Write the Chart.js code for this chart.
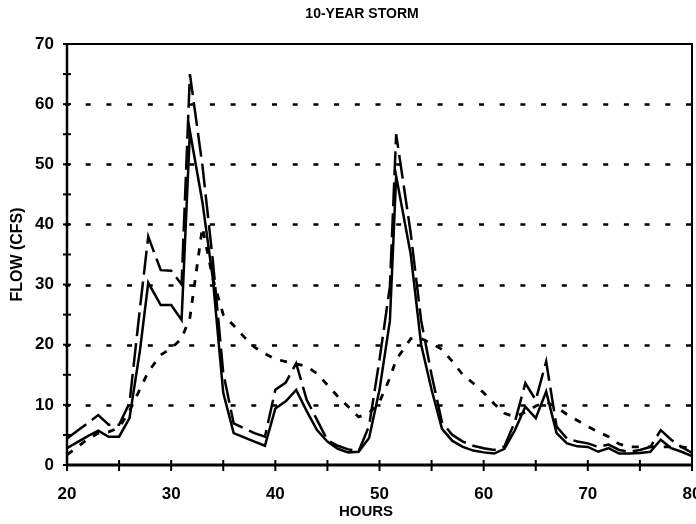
<!DOCTYPE html>
<html>
<head>
<meta charset="utf-8">
<script src="https://cdn.jsdelivr.net/npm/chart.js@4/dist/chart.umd.min.js"></script>
<style>
  html, body { margin: 0; padding: 0; background: #fff; }
  #wrap { width: 696px; height: 524px; }
</style>
</head>
<body>
<div id="wrap"><canvas id="c" width="696" height="524"></canvas></div>
<script>
// Time steps (hours) shared by the three hydrographs
const hours = [20,21,22,23,24,25,26,27,27.8,29,30,31,31.8,33,34,35,36,37,38,39,40,41,42,43,44,45,46,47,48,49,50,51,51.6,53,54,55,56,57,58,59,60,61,62,63,64,65,66,67,68,69,70,71,72,73,74,75,76,77,78,79,80];

// Flow (cfs) – solid hydrograph
const flowSolid = [2.8,3.8,4.8,5.7,4.7,4.7,7.8,19,30.3,26.6,26.6,24.1,55.5,43.7,31,12,5.3,4.6,3.9,3.2,9.4,10.6,12.5,9.0,5.8,3.9,2.7,2.1,2.2,4.5,12.5,24,48,35,20,12.5,6.0,4.0,3.0,2.4,2.1,1.9,2.7,5.8,9.7,7.8,12.2,5.3,3.6,3.1,3.0,2.2,2.8,1.9,1.9,2.0,2.2,4.2,2.8,2.2,1.5];

// Flow (cfs) – long-dash hydrograph
const flowLongDash = [4.4,5.7,7.0,8.3,6.7,6.7,10.3,26,38,32.4,32.3,30,65,49.8,34,15.3,6.9,6.1,5.3,4.7,12.5,13.7,16.9,10.9,7.5,4.1,3.2,2.6,2.3,6.5,17.5,29.7,55,38.5,24,15,7.1,5.0,3.9,3.2,2.8,2.5,3.1,7.2,13.6,10.8,17.2,6.4,4.4,3.9,3.6,3.0,3.4,2.5,2.2,2.5,3.0,5.8,4.2,3.0,2.0];

// Flow (cfs) – short-dash hydrograph
const flowShortDash = [1.7,3.0,4.3,5.3,5.5,6.2,9.0,12.6,15.5,18.3,19.4,21,24.5,39.5,31,25,23.2,21.3,19.6,18.5,17.6,17.2,16.8,16.4,15.2,13.3,11.4,9.7,8.0,8.6,10.5,14.5,17.5,21,21,20.2,19.2,17.2,15,13.6,12.0,10.2,8.6,8.0,8.8,9.8,10.5,9.6,8.4,7.4,6.4,5.5,4.7,3.5,3.0,3.0,3.0,3.0,3.0,3.0,2.8];

// Axis ticks
const xTicks = [20,30,40,50,60,70,80];
const yTicks = [0,10,20,30,40,50,60,70];
const xMinorTicks = [20,25,30,35,40,45,50,55,60,65,70,75,80];
const yMinorTicks = [0,5,10,15,20,25,30,35,40,45,50,55,60,65,70];
const gridLevels = [10,20,30,40,50,60];

const chartTitle = '10-YEAR STORM';
const xTitle = 'HOURS';
const yTitle = 'FLOW (CFS)';

const FONT = "'Liberation Sans Narrow', 'Liberation Sans', Arial, sans-serif";

const pts = (vals) => hours.map((h, i) => ({ x: h, y: vals[i] }));

// Dotted reference lines, box frame, tick marks, title and x-axis caption
const framePlugin = {
  id: 'frame',
  beforeDatasetsDraw(chart) {
    const { ctx, chartArea: a, scales: { y } } = chart;
    ctx.save();
    ctx.strokeStyle = '#000';
    ctx.lineWidth = 2.5;
    ctx.setLineDash([5, 15.7]);
    gridLevels.forEach(v => {
      const py = Math.round(y.getPixelForValue(v)) + 0.5;
      ctx.beginPath();
      ctx.moveTo(a.left - 2, py);
      ctx.lineTo(a.right, py);
      ctx.stroke();
    });
    ctx.restore();
  },
  afterDatasetsDraw(chart) {
    const { ctx, chartArea: a, scales: { x, y } } = chart;
    ctx.save();
    ctx.strokeStyle = '#000';
    ctx.setLineDash([]);
    // frame
    ctx.lineWidth = 2;
    ctx.beginPath();
    ctx.moveTo(a.left, a.top);
    ctx.lineTo(a.right, a.top);
    ctx.lineTo(a.right, a.bottom);
    ctx.stroke();
    ctx.lineWidth = 2.5;
    ctx.beginPath();
    ctx.moveTo(a.left, a.top);
    ctx.lineTo(a.left, a.bottom);
    ctx.stroke();
    ctx.lineWidth = 3;
    ctx.beginPath();
    ctx.moveTo(a.left, a.bottom);
    ctx.lineTo(a.right, a.bottom);
    ctx.stroke();
    // tick marks crossing the axes
    ctx.lineWidth = 2;
    xMinorTicks.forEach(v => {
      const px = x.getPixelForValue(v);
      ctx.beginPath();
      ctx.moveTo(px, a.bottom - 5);
      ctx.lineTo(px, a.bottom + 6);
      ctx.stroke();
    });
    yMinorTicks.forEach(v => {
      const py = y.getPixelForValue(v);
      ctx.beginPath();
      ctx.moveTo(a.left - 4, py);
      ctx.lineTo(a.left + 4, py);
      ctx.stroke();
    });
    // title and x caption
    ctx.fillStyle = '#000';
    ctx.textAlign = 'center';
    ctx.textBaseline = 'middle';
    ctx.font = 'bold 14px ' + FONT;
    ctx.fillText(chartTitle, 362, 14);
    ctx.font = 'bold 15px ' + FONT;
    ctx.fillText(xTitle, 366, 512);
    ctx.restore();
  }
};

new Chart(document.getElementById('c'), {
  type: 'line',
  data: {
    datasets: [
      { data: pts(flowSolid), borderColor: '#000', borderWidth: 2.5, borderDash: [] },
      { data: pts(flowLongDash), borderColor: '#000', borderWidth: 2.5, borderDash: [24, 7] },
      { data: pts(flowShortDash), borderColor: '#000', borderWidth: 2.8, borderDash: [7, 9] }
    ]
  },
  options: {
    responsive: false,
    animation: false,
    parsing: false,
    elements: { point: { radius: 0 }, line: { tension: 0, borderCapStyle: 'butt' } },
    layout: { padding: { top: 44, right: 4, left: 0, bottom: 0 } },
    plugins: { legend: { display: false }, tooltip: { enabled: false }, title: { display: false } },
    scales: {
      x: {
        type: 'linear', min: 20, max: 80,
        afterBuildTicks: (s) => { s.ticks = xTicks.map(v => ({ value: v })); },
        afterFit: (s) => { s.height = 59; s.paddingLeft = 0; s.paddingRight = 0; },
        grid: { display: false, drawTicks: false },
        border: { display: false },
        ticks: { color: '#000', padding: 19, maxRotation: 0, autoSkip: false,
                 font: { family: FONT, size: 17, weight: 'bold' } },
        title: { display: false }
      },
      y: {
        type: 'linear', min: 0, max: 70,
        afterBuildTicks: (s) => { s.ticks = yTicks.map(v => ({ value: v })); },
        afterFit: (s) => { s.width = 67; s.paddingTop = 0; s.paddingBottom = 0; },
        grid: { display: false, drawTicks: false },
        border: { display: false },
        ticks: { color: '#000', padding: 13,
                 font: { family: FONT, size: 17, weight: 'bold' } },
        title: { display: true, text: yTitle, color: '#000', padding: { top: 8, bottom: 0 },
                 font: { family: FONT, size: 16, weight: 'bold' } }
      }
    }
  },
  plugins: [framePlugin]
});
</script>
</body>
</html>
